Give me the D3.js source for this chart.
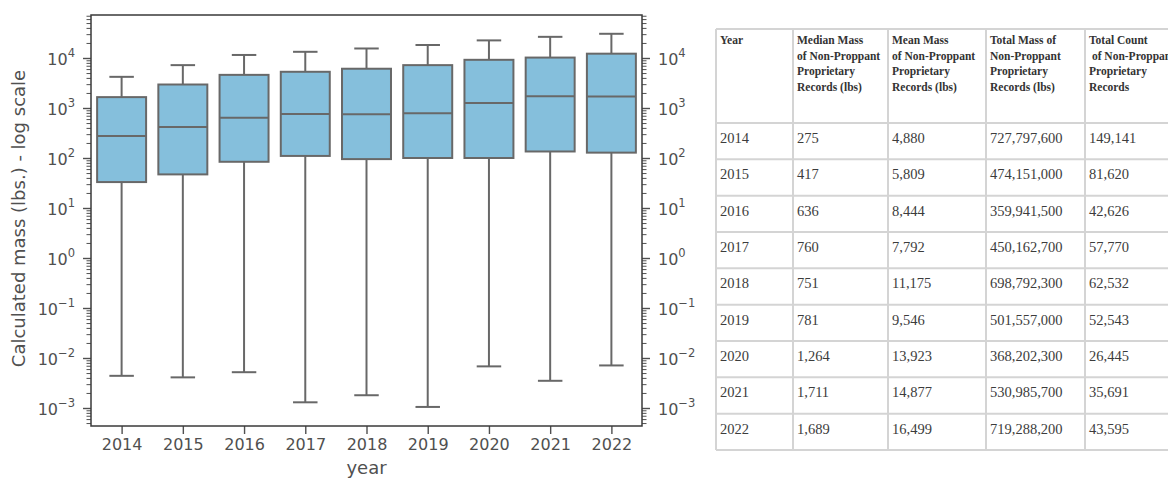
<!DOCTYPE html>
<html>
<head>
<meta charset="utf-8">
<script src="https://cdn.jsdelivr.net/npm/d3@7"></script>
<style>
  html, body { margin: 0; padding: 0; background: #ffffff; }
  svg { display: block; }
</style>
</head>
<body>
<svg id="chart" width="1168" height="481"></svg>
<script>
// ---------------- DATA ----------------
const years = ["2014","2015","2016","2017","2018","2019","2020","2021","2022"];
const whiskerLow  = [0.0044, 0.0041, 0.0052, 0.0013, 0.0018, 0.00105, 0.0068, 0.0035, 0.0071];
const q1          = [33, 47, 84, 110, 95, 100, 100, 135, 128];
const medians     = [275, 417, 636, 760, 751, 781, 1264, 1711, 1689];
const q3          = [1650, 2950, 4600, 5300, 6100, 7200, 9200, 10200, 12200];
const whiskerHigh = [4200, 7200, 11500, 13300, 15500, 18200, 22500, 26500, 30500];
const majorTickExps = [-3, -2, -1, 0, 1, 2, 3, 4];

// table data
const tableHeaders = [
  ["Year"],
  ["Median Mass", "of Non-Proppant", "Proprietary", "Records (lbs)"],
  ["Mean Mass", "of Non-Proppant", "Proprietary", "Records (lbs)"],
  ["Total Mass of", "Non-Proppant", "Proprietary", "Records (lbs)"],
  ["Total Count", "\u00a0of Non-Proppant", "Proprietary", "Records"]
];
const tableYears  = ["2014","2015","2016","2017","2018","2019","2020","2021","2022"];
const medianMass  = ["275","417","636","760","751","781","1,264","1,711","1,689"];
const meanMass    = ["4,880","5,809","8,444","7,792","11,175","9,546","13,923","14,877","16,499"];
const totalMass   = ["727,797,600","474,151,000","359,941,500","450,162,700","698,792,300","501,557,000","368,202,300","530,985,700","719,288,200"];
const totalCount  = ["149,141","81,620","42,626","57,770","62,532","52,543","26,445","35,691","43,595"];

// ---------------- LAYOUT ----------------
const svg = d3.select("#chart");
const plot = { left: 91, right: 642, top: 15, bottom: 426 };
const textColor = "#505050";
const spineColor = "#3a3a3a";
const tickColor = "#505050";
const boxFill = "#85bfdc";
const boxStroke = "#686868";
const font = "DejaVu Sans, sans-serif";

const x = d3.scalePoint().domain(years).range([plot.left, plot.right]).padding(0.5);
const step = x.step();
const boxW = step * 0.8;
const capW = boxW * 0.5;

const y = d3.scaleLog()
  .domain([Math.pow(10, -3.36), Math.pow(10, 4.86)])
  .range([plot.bottom, plot.top]);

// ticks
const majorVals = majorTickExps.map(e => Math.pow(10, e));
const minorVals = [];
for (let e = -4; e <= 5; e++) {
  for (let m = 2; m <= 9; m++) {
    const v = m * Math.pow(10, e);
    if (v >= y.domain()[0] && v <= y.domain()[1]) minorVals.push(v);
  }
}
function fmtExp(v) { return Math.round(Math.log10(v)); }

function styleAxis(g) {
  g.select(".domain").remove();
  g.selectAll(".tick line").attr("stroke", tickColor).attr("stroke-width", 1);
}

// minor ticks left/right
svg.append("g").attr("transform", `translate(${plot.left},0)`)
  .call(d3.axisLeft(y).tickValues(minorVals).tickSize(4.5).tickFormat(""))
  .call(styleAxis);
svg.append("g").attr("transform", `translate(${plot.right},0)`)
  .call(d3.axisRight(y).tickValues(minorVals).tickSize(4.5).tickFormat(""))
  .call(styleAxis);

// major ticks with superscript labels
function majorAxis(axisGen, xpos, anchor) {
  const g = svg.append("g").attr("transform", `translate(${xpos},0)`)
    .call(axisGen(y).tickValues(majorVals).tickSize(8).tickPadding(8).tickFormat(""))
    .call(styleAxis);
  g.selectAll(".tick line").attr("stroke-width", 1.4);
  g.selectAll(".tick").each(function(d) {
    const t = d3.select(this).select("text");
    t.attr("fill", textColor).attr("font-family", font).attr("font-size", 16)
     .attr("text-anchor", anchor).attr("dy", "0.38em");
    t.append("tspan").text("10");
    const e = fmtExp(d);
    t.append("tspan").attr("font-size", 11.5).attr("dy", "-0.62em")
      .text(String(e).replace("-", "\u2212"));
  });
}
majorAxis(d3.axisLeft, plot.left, "end");
majorAxis(d3.axisRight, plot.right, "start");

// x axis
const xg = svg.append("g").attr("transform", `translate(0,${plot.bottom})`)
  .call(d3.axisBottom(x).tickSize(8).tickPadding(5));
xg.select(".domain").remove();
xg.selectAll(".tick line").attr("stroke", tickColor).attr("stroke-width", 1.4);
xg.selectAll(".tick text").attr("fill", textColor).attr("font-family", font).attr("font-size", 16);

// boxes
const boxes = svg.append("g");
years.forEach((yr, i) => {
  const cx = x(yr);
  const g = boxes.append("g");
  g.append("line").attr("x1", cx).attr("x2", cx)
    .attr("y1", y(whiskerHigh[i])).attr("y2", y(q3[i]))
    .attr("stroke", boxStroke).attr("stroke-width", 2);
  g.append("line").attr("x1", cx).attr("x2", cx)
    .attr("y1", y(q1[i])).attr("y2", y(whiskerLow[i]))
    .attr("stroke", boxStroke).attr("stroke-width", 2);
  [whiskerHigh[i], whiskerLow[i]].forEach(v => {
    g.append("line").attr("x1", cx - capW / 2).attr("x2", cx + capW / 2)
      .attr("y1", y(v)).attr("y2", y(v))
      .attr("stroke", boxStroke).attr("stroke-width", 2);
  });
  g.append("rect").attr("x", cx - boxW / 2).attr("width", boxW)
    .attr("y", y(q3[i])).attr("height", y(q1[i]) - y(q3[i]))
    .attr("fill", boxFill).attr("stroke", boxStroke).attr("stroke-width", 2);
  g.append("line").attr("x1", cx - boxW / 2).attr("x2", cx + boxW / 2)
    .attr("y1", y(medians[i])).attr("y2", y(medians[i]))
    .attr("stroke", boxStroke).attr("stroke-width", 2);
});

// frame
svg.append("rect").attr("x", plot.left).attr("y", plot.top)
  .attr("width", plot.right - plot.left).attr("height", plot.bottom - plot.top)
  .attr("fill", "none").attr("stroke", spineColor).attr("stroke-width", 1.5);

// axis labels
svg.append("text").attr("x", (plot.left + plot.right) / 2).attr("y", 474)
  .attr("text-anchor", "middle").attr("fill", textColor)
  .attr("font-family", font).attr("font-size", 18).text("year");
svg.append("text")
  .attr("transform", `translate(25,${(plot.top + plot.bottom) / 2 - 2}) rotate(-90)`)
  .attr("text-anchor", "middle").attr("fill", textColor)
  .attr("font-family", font).attr("font-size", 18)
  .text("Calculated mass (lbs.) - log scale");

// ---------------- TABLE ----------------
const colEdges = [716, 793, 888, 986, 1085, 1190];
const tableTop = 29, headerBottom = 123, tableBottom = 450;
const rowScale = d3.scaleBand().domain(tableYears).range([headerBottom, tableBottom]);
const tbl = svg.append("g");
const gridColor = "#d4d4d4";
const serif = "Liberation Serif, Times New Roman, serif";
const tTextColor = "#3c3c3c";

[tableTop, ...tableYears.map(r => rowScale(r)), tableBottom].forEach(yy => {
  tbl.append("line").attr("x1", colEdges[0]).attr("x2", colEdges[colEdges.length - 1])
    .attr("y1", yy).attr("y2", yy).attr("stroke", gridColor).attr("stroke-width", 2);
});
colEdges.forEach(xx => {
  tbl.append("line").attr("x1", xx).attr("x2", xx)
    .attr("y1", tableTop).attr("y2", tableBottom)
    .attr("stroke", gridColor).attr("stroke-width", 2);
});

tableHeaders.forEach((lines, c) => {
  lines.forEach((ln, k) => {
    tbl.append("text").attr("x", colEdges[c] + 4).attr("y", 44 + k * 15.5)
      .attr("font-family", serif).attr("font-weight", "bold").attr("font-size", 11.5)
      .attr("fill", "#333").text(ln);
  });
});

const columns = [tableYears, medianMass, meanMass, totalMass, totalCount];
columns.forEach((col, c) => {
  col.forEach((val, r) => {
    tbl.append("text").attr("x", colEdges[c] + 4)
      .attr("y", rowScale(tableYears[r]) + 20)
      .attr("font-family", serif).attr("font-size", 14.5)
      .attr("fill", tTextColor).text(val);
  });
});
</script>
</body>
</html>
